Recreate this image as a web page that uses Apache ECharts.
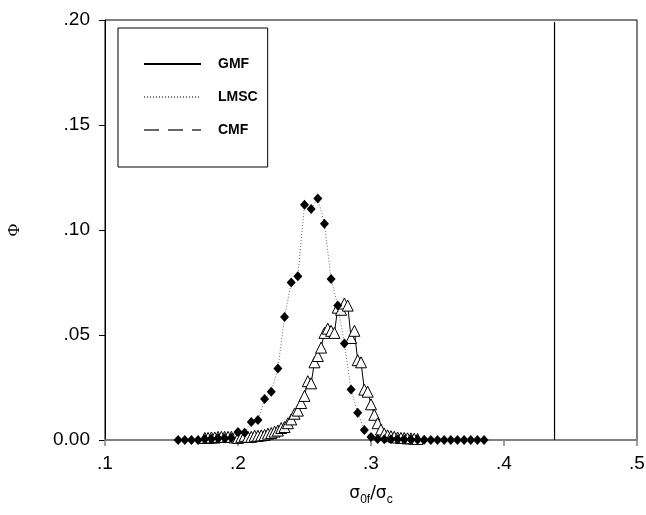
<!DOCTYPE html>
<html>
<head>
<meta charset="utf-8">
<script src="https://cdn.jsdelivr.net/npm/echarts@6/dist/echarts.min.js"></script>
<style>
  html, body { margin: 0; padding: 0; background: #fff; }
  #chart { width: 646px; height: 515px; }
</style>
</head>
<body>
<div id="chart"></div>
<script>
// LMSC (diamonds, dotted line)
const lmscX = [0.155, 0.16, 0.165, 0.17, 0.175, 0.18, 0.185, 0.19, 0.195, 0.2,
  0.205, 0.21, 0.215, 0.22, 0.225, 0.23, 0.235, 0.24, 0.245, 0.25,
  0.255, 0.26, 0.265, 0.27, 0.275, 0.28, 0.285, 0.29, 0.295, 0.3,
  0.305, 0.31, 0.315, 0.32, 0.325, 0.33, 0.335, 0.34, 0.345, 0.35,
  0.355, 0.36, 0.365, 0.37, 0.375, 0.38, 0.385];
const lmscY = [0, 0, 0, 0, 0.0005, 0.0005, 0.0008, 0.0008, 0.001, 0.0038,
  0.0035, 0.0086, 0.0095, 0.0195, 0.023, 0.034, 0.0586, 0.075, 0.078, 0.112,
  0.110, 0.115, 0.103, 0.0767, 0.064, 0.046, 0.024, 0.013, 0.0048, 0.0014,
  0.0005, 0.0004, 0.0003, 0.0003, 0.0002, 0.0002, 0.0001, 0.0001, 0, 0,
  0, 0, 0, 0, 0, 0, 0];

// GMF (triangles, solid line)
const gmfX = [0.175, 0.1775, 0.18, 0.1825, 0.185, 0.1875, 0.19, 0.1925, 0.195, 0.1975,
  0.2, 0.2025, 0.205, 0.2075, 0.21, 0.2125, 0.215, 0.2175, 0.22, 0.2225,
  0.225, 0.2275, 0.23, 0.2325, 0.235, 0.2375, 0.24, 0.2425, 0.245, 0.2475,
  0.25, 0.2525, 0.255, 0.2575, 0.26, 0.2625, 0.265, 0.2675, 0.27, 0.2725,
  0.275, 0.2775, 0.28, 0.2825, 0.285, 0.2875, 0.29, 0.2925, 0.295, 0.2975,
  0.3, 0.3025, 0.305, 0.3075, 0.31, 0.3125, 0.315, 0.3175, 0.32, 0.3225,
  0.325, 0.3275, 0.33, 0.3325, 0.335];
const gmfY = [0.001, 0.001, 0.0012, 0.0012, 0.0015, 0.0015, 0.0015, 0.0015, 0.0015, 0.0012,
  0.001, 0.0015, 0.002, 0.0015, 0.0015, 0.002, 0.002, 0.0022, 0.0024, 0.003,
  0.0033, 0.004, 0.0045, 0.0057, 0.0062, 0.008, 0.0098, 0.0125, 0.014, 0.0176,
  0.021, 0.028, 0.027, 0.037, 0.040, 0.044, 0.051, 0.053, 0.052, 0.051,
  0.063, 0.062, 0.065, 0.064, 0.0486, 0.052, 0.038, 0.037, 0.024, 0.023,
  0.017, 0.012, 0.008, 0.005, 0.003, 0.0022, 0.0018, 0.0015, 0.0012, 0.001,
  0.001, 0.0008, 0.0008, 0.0006, 0.0005];

// CMF (single vertical line)
const cmfX = [0.438, 0.438];
const cmfY = [0, 0.199];

const legendNames = ['GMF', 'LMSC', 'CMF'];
const xTicks = [0.1, 0.2, 0.3, 0.4, 0.5];
const yTicks = [0, 0.05, 0.10, 0.15, 0.20];

const zip = (xs, ys) => xs.map((x, i) => [x, ys[i]]);

const chart = echarts.init(document.getElementById('chart'), null, { renderer: 'canvas' });

const labelFont = { fontFamily: 'Liberation Sans, Arial, sans-serif', fontSize: 19, color: '#000' };

const option = {
  animation: false,
  backgroundColor: '#fff',
  grid: {
    left: 105, right: 9, top: 20, bottom: 75,
    outerBoundsMode: 'none',
    containLabel: false,
    show: true, borderColor: '#000', borderWidth: 1
  },
  legend: {
    orient: 'vertical',
    left: 118, top: 28,
    padding: [29, 10, 30, 25],
    itemWidth: 57, itemHeight: 14, itemGap: 19,
    borderColor: '#000', borderWidth: 1,
    selectedMode: false,
    itemStyle: { opacity: 0 },
    textStyle: {
      fontFamily: 'Liberation Sans, Arial, sans-serif',
      fontWeight: 'bold', fontSize: 14, color: '#000',
      padding: [8, 0, 0, 12]
    },
    data: legendNames
  },
  xAxis: {
    type: 'value',
    min: xTicks[0], max: xTicks[xTicks.length - 1], interval: 0.1,
    splitLine: { show: false },
    axisLine: { lineStyle: { color: '#808080', width: 2 } },
    axisTick: { show: true, inside: false, length: 6, lineStyle: { color: '#808080', width: 1.5 } },
    axisLabel: Object.assign({
      margin: 14,
      showMinLabel: true, showMaxLabel: true,
      formatter: (v) => v.toFixed(1).replace(/^0/, '')
    }, labelFont),
    name: '{s|σ}{sub|0f}{s|/σ}{sub|c}',
    nameLocation: 'middle',
    nameGap: 42,
    nameTextStyle: {
      rich: {
        s: { fontFamily: 'DejaVu Sans, sans-serif', fontSize: 17, color: '#000' },
        sub: { fontFamily: 'Liberation Sans, Arial, sans-serif', fontSize: 12, color: '#000', padding: [12, 0, 0, 0] }
      }
    }
  },
  yAxis: {
    type: 'value',
    min: yTicks[0], max: yTicks[yTicks.length - 1], interval: 0.05,
    splitLine: { show: false },
    axisLine: { lineStyle: { color: '#000', width: 1 } },
    axisTick: { show: true, inside: false, length: 6, lineStyle: { color: '#000' } },
    axisLabel: Object.assign({
      margin: 15,
      formatter: (v) => v === 0 ? '0.00' : v.toFixed(2).replace(/^0/, '')
    }, labelFont),
    name: 'Φ',
    nameLocation: 'middle',
    nameRotate: 90,
    nameGap: 82,
    nameTextStyle: { fontFamily: 'Liberation Serif, serif', fontSize: 17, color: '#000' }
  },
  series: [
    // legend samples
    { name: 'GMF', type: 'line', data: [], symbol: 'none',
      lineStyle: { color: '#000', width: 1 } },
    { name: 'LMSC', type: 'line', data: [], symbol: 'none',
      lineStyle: { color: '#777', width: 1, type: [1, 2] } },
    { name: 'CMF', type: 'line', data: [], symbol: 'none',
      lineStyle: { color: '#666', width: 2, type: [15, 9] } },
    // data
    { name: 'CMF', type: 'line', data: zip(cmfX, cmfY), symbol: 'none',
      lineStyle: { color: '#000', width: 1.2 }, z: 3 },
    { name: 'GMF', type: 'line', data: zip(gmfX, gmfY),
      symbol: 'triangle', symbolSize: 11,
      itemStyle: { color: '#fff', borderColor: '#000', borderWidth: 1 },
      lineStyle: { color: '#000', width: 1 }, z: 3 },
    { name: 'LMSC', type: 'line', data: zip(lmscX, lmscY),
      symbol: 'diamond', symbolSize: [9, 10],
      itemStyle: { color: '#000' },
      lineStyle: { color: '#666', width: 1, type: [1, 2] }, z: 4 }
  ]
};

chart.setOption(option);
</script>
</body>
</html>
